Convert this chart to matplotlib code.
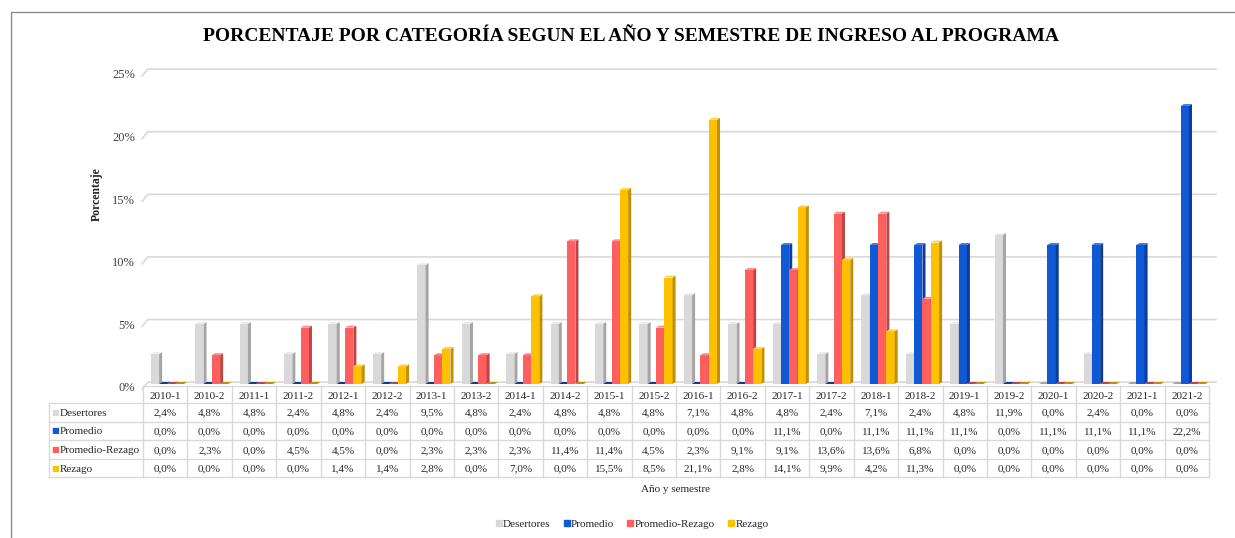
import matplotlib
matplotlib.use('Agg')
import matplotlib.pyplot as plt
from matplotlib.patches import Polygon
from matplotlib.lines import Line2D
from matplotlib.transforms import blended_transform_factory

plt.rcParams['font.family'] = ['Liberation Serif', 'DejaVu Serif']

# datos
periodos = ['2010-1', '2010-2', '2011-1', '2011-2', '2012-1', '2012-2', '2013-1', '2013-2',
            '2014-1', '2014-2', '2015-1', '2015-2', '2016-1', '2016-2', '2017-1', '2017-2',
            '2018-1', '2018-2', '2019-1', '2019-2', '2020-1', '2020-2', '2021-1', '2021-2']
desertores = [2.4, 4.8, 4.8, 2.4, 4.8, 2.4, 9.5, 4.8, 2.4, 4.8, 4.8, 4.8,
              7.1, 4.8, 4.8, 2.4, 7.1, 2.4, 4.8, 11.9, 0.0, 2.4, 0.0, 0.0]
promedio = [0.0, 0.0, 0.0, 0.0, 0.0, 0.0, 0.0, 0.0, 0.0, 0.0, 0.0, 0.0,
            0.0, 0.0, 11.1, 0.0, 11.1, 11.1, 11.1, 0.0, 11.1, 11.1, 11.1, 22.2]
promedio_rezago = [0.0, 2.3, 0.0, 4.5, 4.5, 0.0, 2.3, 2.3, 2.3, 11.4, 11.4, 4.5,
                   2.3, 9.1, 9.1, 13.6, 13.6, 6.8, 0.0, 0.0, 0.0, 0.0, 0.0, 0.0]
rezago = [0.0, 0.0, 0.0, 0.0, 1.4, 1.4, 2.8, 0.0, 7.0, 0.0, 15.5, 8.5,
          21.1, 2.8, 14.1, 9.9, 4.2, 11.3, 0.0, 0.0, 0.0, 0.0, 0.0, 0.0]

series_nombres = ['Desertores', 'Promedio', 'Promedio-Rezago', 'Rezago']
series_valores = [desertores, promedio, promedio_rezago, rezago]
# (frente, lado, tapa)
colores = [('#D9D9D9', '#A5A5A5', '#EBEBEB'),
           ('#0F59D6', '#0A3C98', '#3F7DE6'),
           ('#FF5F5F', '#BF4545', '#FF8C8C'),
           ('#FFC000', '#BF9000', '#FFD24D')]
y_ticks = [0, 5, 10, 15, 20, 25]

W, H = 1235, 538
TXT = '#262626'


def fx(px):
    return px / W


def fy(py):
    return 1 - py / H


fig = plt.figure(figsize=(W / 100, H / 100), dpi=100)

# borde del grafico
fig.add_artist(Line2D([fx(11), fx(11), fx(1235)], [fy(538), fy(12), fy(12)],
                      color='#8C8C8C', lw=1.0))

ax = fig.add_axes([fx(143), fy(384), fx(1209) - fx(143), (384 - 71) / H])
ax.set_xlim(-0.5, len(periodos) - 0.5)
ax.set_ylim(0, 25)
ax.axis('off')

# lineas de division (pared 3D)
for t in y_ticks:
    ax.plot([-0.52, -0.39, len(periodos) - 0.34], [t - 0.4, t + 0.15, t + 0.15],
            color='#D9D9D9', lw=1.2, clip_on=False, zorder=1)
    ax.text(fx(135), t - 0.35, f'{t}%', transform=blended_transform_factory(fig.transFigure, ax.transData),
            ha='right', va='center', fontsize=9, color='#404040')

# barras con efecto 3D
w = 0.187
dx, dy = 0.068, 0.16
for k, (vals, (c_front, c_side, c_top)) in enumerate(zip(series_valores, colores)):
    xs = [i - 0.5 + 0.175 + k * w for i in range(len(periodos))]
    bars = ax.bar(xs, vals, w, align='edge', color=c_front, zorder=3 + 2 * k, linewidth=0)
    for b in bars:
        x0, bw, h = b.get_x(), b.get_width(), b.get_height()
        ax.add_patch(Polygon([(x0 + bw, 0), (x0 + bw + dx, dy), (x0 + bw + dx, h + dy), (x0 + bw, h)],
                             closed=True, facecolor=c_side, edgecolor='none', zorder=4 + 2 * k))
        ax.add_patch(Polygon([(x0, h), (x0 + dx, h + dy), (x0 + bw + dx, h + dy), (x0 + bw, h)],
                             closed=True, facecolor=c_side if h == 0 else c_top,
                             edgecolor='none', zorder=4 + 2 * k))

# tabla de datos
tr = blended_transform_factory(ax.transData, fig.transFigure)
grid_c = '#D9D9D9'
fila_lineas = [403, 421.5, 440, 458.5, 477]
fila_centros = [412, 431, 449.5, 468]

fig.add_artist(Line2D([fx(143), fx(1209)], [fy(386), fy(386)], color=grid_c, lw=1.0))
for py in fila_lineas:
    fig.add_artist(Line2D([fx(49), fx(1209)], [fy(py), fy(py)], color=grid_c, lw=1.0))
fig.add_artist(Line2D([fx(49), fx(49)], [fy(403), fy(477)], color=grid_c, lw=1.0))
for i in range(len(periodos) + 1):
    ax.plot([i - 0.5, i - 0.5], [fy(386), fy(477)], transform=tr, color=grid_c, lw=1.0, clip_on=False)

for i, p in enumerate(periodos):
    ax.text(i, fy(395.5), p, transform=tr, ha='center', va='center_baseline', fontsize=8, color=TXT)
    for r, vals in enumerate(series_valores):
        txt = f'{vals[i]:.1f}%'.replace('.', ',')
        ax.text(i, fy(fila_centros[r]), txt, transform=tr, ha='center', va='center_baseline',
                fontsize=8, color=TXT)

for r, nombre in enumerate(series_nombres):
    fig.text(fx(55), fy(fila_centros[r]), '\u25A0', color=colores[r][0], fontsize=6,
             ha='center', va='center', family='DejaVu Sans')
    fig.text(fx(60), fy(fila_centros[r]), nombre, ha='left', va='center_baseline', fontsize=8, color=TXT)

# textos
fig.text(fx(631), fy(37), 'PORCENTAJE POR CATEGORÍA SEGUN EL AÑO Y SEMESTRE DE INGRESO AL PROGRAMA',
         ha='center', va='center', fontsize=14, fontweight='bold')
fig.text(fx(97), fy(194), 'Porcentaje', rotation=90, ha='center', va='center',
         fontsize=8.5, fontweight='bold', color=TXT)
fig.text(fx(675), fy(490), 'Año y semestre', ha='center', va='center', fontsize=8, color=TXT)

handles = [Line2D([], [], marker='s', ls='none', markersize=5, color=c[0]) for c in colores]
fig.legend(handles, series_nombres, loc='center', bbox_to_anchor=(fx(632), fy(524)), ncol=4,
           frameon=False, fontsize=8, handlelength=0.6, handletextpad=0.1, columnspacing=1.15,
           labelcolor=TXT)

fig.savefig('out.png', dpi=100)
plt.close(fig)
